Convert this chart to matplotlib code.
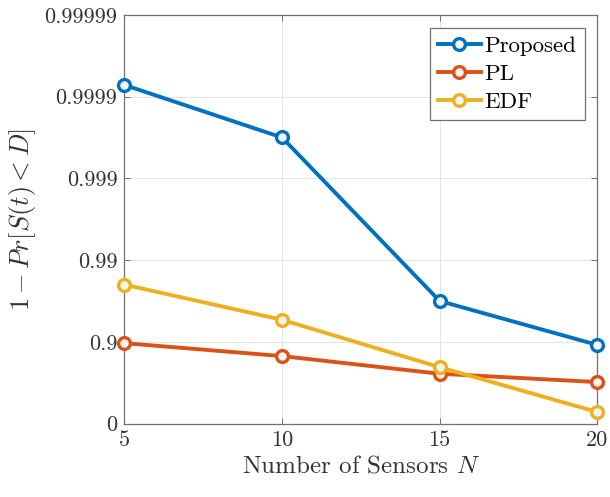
import numpy as np
import matplotlib
matplotlib.use("Agg")
import matplotlib.pyplot as plt

plt.rcParams['font.family'] = 'serif'
plt.rcParams['font.serif'] = ['cmr10']
plt.rcParams['mathtext.fontset'] = 'cm'
plt.rcParams['axes.unicode_minus'] = False

sensors = [5, 10, 15, 20]
proposed = [0.999928, 0.999684, 0.96838, 0.8911]
pl = [0.8962, 0.8507, 0.7545, 0.6895]
edf = [0.98005, 0.9463, 0.7958, 0.2789]
ytick_vals = [0, 0.9, 0.99, 0.999, 0.9999, 0.99999]
ytick_labels = ['0', '0.9', '0.99', '0.999', '0.9999', '0.99999']
xtick_vals = [5, 10, 15, 20]

def fwd(p):
    p = np.asarray(p, dtype=float)
    return -np.log10(np.clip(1 - p, 1e-12, None))

def inv(t):
    t = np.asarray(t, dtype=float)
    return 1 - 10 ** (-t)

fig = plt.figure(figsize=(6.1, 4.97), dpi=100)
ax = fig.add_axes([0.204, 0.1477, 0.775, 0.8223])
ax.set_yscale('function', functions=(fwd, inv))

colors = ['#0072BD', '#D95319', '#EDB120']
names = ['Proposed', 'PL', 'EDF']
for vals, c, n in zip([proposed, pl, edf], colors, names):
    ax.plot(sensors, vals, '-o', color=c, lw=2.8, ms=8.5, mew=2.4,
            mfc='#f4f4f4', mec=c, label=n, clip_on=False, zorder=3)

ax.set_xlim(5, 20)
ax.set_ylim(0, 0.99999)
ax.set_xticks(xtick_vals)
ax.set_xticklabels([str(v) for v in xtick_vals])
ax.set_yticks(ytick_vals)
ax.set_yticklabels(ytick_labels)
ax.minorticks_off()
ax.tick_params(direction='in', top=True, right=True, labelsize=16,
               length=4, width=0.7, color='#707070', labelcolor='#333333', pad=5)
for s in ax.spines.values():
    s.set_linewidth(0.9)
    s.set_color('#707070')
ax.grid(True, color='#e4e4e4', lw=0.7)
ax.set_axisbelow(True)

ax.set_xlabel('Number of Sensors $N$', fontsize=18, color='#333333', labelpad=4)
ax.set_ylabel(r'$1-Pr[S(t)<D]$', fontsize=19, color='#333333', labelpad=5)

leg = ax.legend(loc='upper right', fontsize=16.5, frameon=True, fancybox=False,
                edgecolor='#707070', handlelength=1.9, borderpad=0.35,
                labelspacing=0.35, handletextpad=0.15, borderaxespad=0.55,
                framealpha=1)
leg.get_frame().set_linewidth(0.9)

fig.savefig('out.png', dpi=100)
